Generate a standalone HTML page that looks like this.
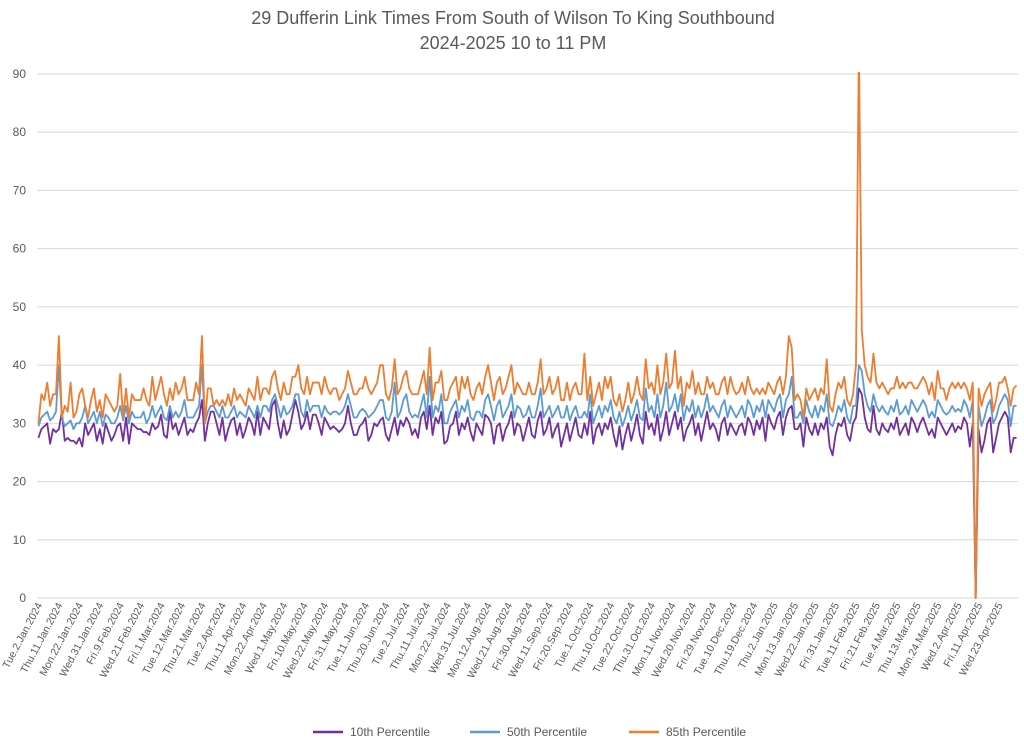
<!DOCTYPE html>
<html><head><meta charset="utf-8"><style>
body{margin:0;background:#fff;}
svg{display:block;font-family:"Liberation Sans",sans-serif;}
</style></head><body>
<svg id="chart" width="1024" height="746">
<text x="513" y="24" text-anchor="middle" font-size="18" fill="#595959">29 Dufferin Link Times From South of Wilson To King Southbound</text>
<text x="513" y="49" text-anchor="middle" font-size="18" fill="#595959">2024-2025 10 to 11 PM</text>
<g id="grid"></g><g id="yticks"></g><g id="xticks"></g>
<defs><clipPath id="pc"><rect x="37" y="72" width="985" height="530"/></clipPath></defs>
<g id="series" clip-path="url(#pc)"></g>
<g>
<line x1="313" y1="732" x2="343" y2="732" stroke="#7030a0" stroke-width="2.5"/>
<text x="350" y="736" font-size="12" fill="#595959">10th Percentile</text>
<line x1="470" y1="732" x2="500" y2="732" stroke="#5b9bd5" stroke-width="2.5"/>
<text x="507" y="736" font-size="12" fill="#595959">50th Percentile</text>
<line x1="629" y1="732" x2="659" y2="732" stroke="#ed7d31" stroke-width="2.5"/>
<text x="666" y="736" font-size="12" fill="#595959">85th Percentile</text>
</g>
</svg>
<script>
const xLabels=["Tue.2.Jan.2024","Thu.11.Jan.2024","Mon.22.Jan.2024","Wed.31.Jan.2024","Fri.9.Feb.2024","Wed.21.Feb.2024","Fri.1.Mar.2024","Tue.12.Mar.2024","Thu.21.Mar.2024","Tue.2.Apr.2024","Thu.11.Apr.2024","Mon.22.Apr.2024","Wed.1.May.2024","Fri.10.May.2024","Wed.22.May.2024","Fri.31.May.2024","Tue.11.Jun.2024","Thu.20.Jun.2024","Tue.2.Jul.2024","Thu.11.Jul.2024","Mon.22.Jul.2024","Wed.31.Jul.2024","Mon.12.Aug.2024","Wed.21.Aug.2024","Fri.30.Aug.2024","Wed.11.Sep.2024","Fri.20.Sep.2024","Tue.1.Oct.2024","Thu.10.Oct.2024","Tue.22.Oct.2024","Thu.31.Oct.2024","Mon.11.Nov.2024","Wed.20.Nov.2024","Fri.29.Nov.2024","Tue.10.Dec.2024","Thu.19.Dec.2024","Thu.2.Jan.2025","Mon.13.Jan.2025","Wed.22.Jan.2025","Fri.31.Jan.2025","Tue.11.Feb.2025","Fri.21.Feb.2025","Tue.4.Mar.2025","Thu.13.Mar.2025","Mon.24.Mar.2025","Wed.2.Apr.2025","Fri.11.Apr.2025","Wed.23.Apr.2025"];
const yTicks=[0,10,20,30,40,50,60,70,80,90];
const p10=[27.5,29,29.5,30,26.5,29,28.5,29,32,27,27.5,27,27,26.5,27.5,26,30,28,29,30,
27,29,26.5,30,28.5,27,28,29.5,30,27,31,26.5,30,29.5,29,29,28.5,28.5,28,30,
29,29.5,31.5,28,27.5,32,29,30,28,29.5,31,28,29,28.5,30,31,34,27,30,32,
32,30,28,31,27,29,30.5,31,28,30,27.5,29,31,30,28,32,28,31,30,29,
33,34,30,27.5,30.5,28,29,31.5,34,32,29,30,32,29,31.5,31.5,30,28,31,30,
29,29.5,29,28.5,29,30,33,30,28,28,29.5,30,31,27,28,30,29.5,30.5,31,28,
27,29,31,28,30.5,29.5,31,30,28,29,27.5,31,32,29,33,28,31,30,32,26.5,
27,29.5,30,32,28,30,29,31,28.5,27,30,29,28,31.5,31,30,26.5,29.5,30,27,
29,30,32,28,30,29.5,27,29,31,28,27.5,30.5,32,28,29,31,27.5,29,30,26,
28,30,27,29,31,28,27.5,30,28,32,26.5,29,30,28,30,29,31,28,26,29.5,
25.5,28,30,27,29,31.5,28,26.5,32,29,30,28,31.5,27,29,32,28,30,32,29,
31,27,29,30,31.5,28,30,27,29.5,32,29,30,29,27,30,31,28,30,29,28,
29.5,30,28,31,30,28,30.5,29,31,27,31.5,30,29,31,32,28,31,32.5,33,29,
29,30,26,31,29,28,30,28,30,29,31,26,24.5,28,30,29.5,31,28,27,30,
31,36,35,31,29,28.5,33,29,28,30,29,28.5,30,29,31,28,29,30,28,31,
30,28.5,30,31,29.5,28,29,27.5,31,30,29,28,29,30,28.5,29.5,29,31,30,26,
30,0,29,25,27,30,31,25,27.5,30,31,32,31,25,27.5,27.5];
const p50=[29.5,31,31.5,32,30.5,31,32,40,31,29.5,30,30.5,29,30,30,31,33,30,31,32,
30,32,29.5,31.5,31,30,30,31,33,30.5,33,30,32,31,31,31,32,30,31,33,
31,32,33,31,30.5,33,31,32,31,32,34,31,31,31,32,33,40,30,32,33,
33,32,31,33,31,31,32,33,31,32,31.5,31,33,32,31,33,31,33,33,32,
34,35,33,31,33,31.5,32,33,35,35,32,31,34,32,33,33,33,31,33,32,
31.5,32,32,31.5,32,33,35,33,31,31,32,32.5,32,31,31.5,32,33,34,34,31,
30.5,32,37,31,32,34,35,32,31,31.5,31,33,35,31,38,31,33,32,35,30,
30,32,33,34,31,33,32,34,31,30.5,32,32,31,34,35,33,30.5,33,34,31,
32,33,35,31,33,32.5,31,31.5,33,31,31,33,36,31,32,33,31,32,33,31,
31,33,30.5,32,33,31,31,32,31,35,30,31.5,33,31,33,32,34,31,30,32,
29.5,31,33,30.5,32,34,31,30.5,36,32,33,31,35,31,33,37,32,33,35,32,
35,30.5,33,32,34,31,33,31,32.5,35,32,33,32,31,33,34,31,33,32,31,
32,33,31,34,33,31,33,32,34,31,34,33,32,34,35,31,34,35,38,31,
31,32,30,34,32,31,33,31,33,32,35,30,29.5,31,33,32,34,31,30,33,
33,40,39,35,33,32,35,33,32,33,32,31.5,33,32,34,31.5,32,33,31.5,34,
33,32,33,34,33,31,32,31,34,33,32,31.5,32,33,32,32.5,32,34,33,31,
34,0,33,29.5,31,33,34,30,31,33,34,35,34,29.5,33,33];
const p85=[30,35,34,37,33,35,35,45,31,33,32,37,31,32,35,36,33,31,34,36,
32,34,31,35,34,33,32,33,38.5,31,36,31,35,34,34,34,36,34,33,38,
34,36,38,35,33,36,34,37,35,36,38,34,34,34,37,35,45,30,36,36,
33,34,33,34,33,35,33,36,34,35,34,33,36,35,34,38,34,36,36,35,
38,39,36,34,37,35,35,38,38,40,36,35,38,35,37,37,37,35,38,36,
35,36,36,34,35,36,39,37,35,35,36,36,38,36,35,36,37,40,40,35,
34,36,41,35,36,38,39,36,35,35,35,37,39,35,43,34,37,37,39,34,
34,36,37,38,34,38,36,38,35,34,36,37,35,38,40,37,34,37,38,35,
36,38,40,35,37,36,35,35,37,35,35,37,41,35,36,38,35,36,38,34,
34,37,34,36,37,35,35,42,34,38,33,35,37,34,38,36,38,34,33,35,
32,34,37,33.5,35,38,35,34,41,36,37,35,40,35,37,42,36,37,42.5,36,
38,33,37,36,39,35,37,35,35,38,36,37,35,35,37,38,35,38,36,35,
35.5,37,35,38,36,35,36,35,36,35,37,36,35,37,38,35,38,45,43,34,
35,34,31,36,34,35,36,34,36,35,41,33,32,35,37,36,38,34,33,35,
40,95,46,40,38,37,42,37,36,37,36,35,36,36,38,36,37,36,37,37,
36,36,37,38,37,35,37,34,39,36,36,34,36,37,36,37,36,37,36,34,
37,0,36,33,35,36,37,32,34,37,37,38,36,33,36,36.5];
const NS="http://www.w3.org/2000/svg";
const L=37,R=1018,T=74,B=598,N=p10.length,perLabel=7;
const step=(R-L)/N;
const xs=i=>L+step*(i+0.5);
const ys=v=>B-(v/90)*(B-T);
function mk(t,a,p){const e=document.createElementNS(NS,t);for(const k in a)e.setAttribute(k,a[k]);p.appendChild(e);return e;}
const grid=document.getElementById('grid'),yt=document.getElementById('yticks'),xt=document.getElementById('xticks'),sg=document.getElementById('series');
yTicks.forEach(v=>{
const g=mk('line',{x1:L,x2:R,y1:ys(v),y2:ys(v),stroke:'#d9d9d9','stroke-width':1},grid);


const t=mk('text',{x:26,y:ys(v)+4,'text-anchor':'end','font-size':12,fill:'#595959'},yt);
t.textContent=v;


});
xLabels.forEach((s,i)=>{
const x=xs(i*perLabel)+4,y=605;
const t=mk('text',{x:x,y:y,'text-anchor':'end','font-size':10.5,fill:'#595959',transform:`rotate(-62 ${x} ${y})`},xt);
t.textContent=s;


});
[[p10,'#7030a0','series-10th-percentile'],[p50,'#5b9bd5','series-50th-percentile'],[p85,'#ed7d31','series-85th-percentile']].forEach(([d,c,n])=>{
const pts=d.map((v,i)=>xs(i).toFixed(2)+','+ys(v).toFixed(2)).join(' ');
const pl=mk('polyline',{points:pts,fill:'none',stroke:c,'stroke-width':1.8,'stroke-linejoin':'round'},sg);


});
</script>
</body></html>
